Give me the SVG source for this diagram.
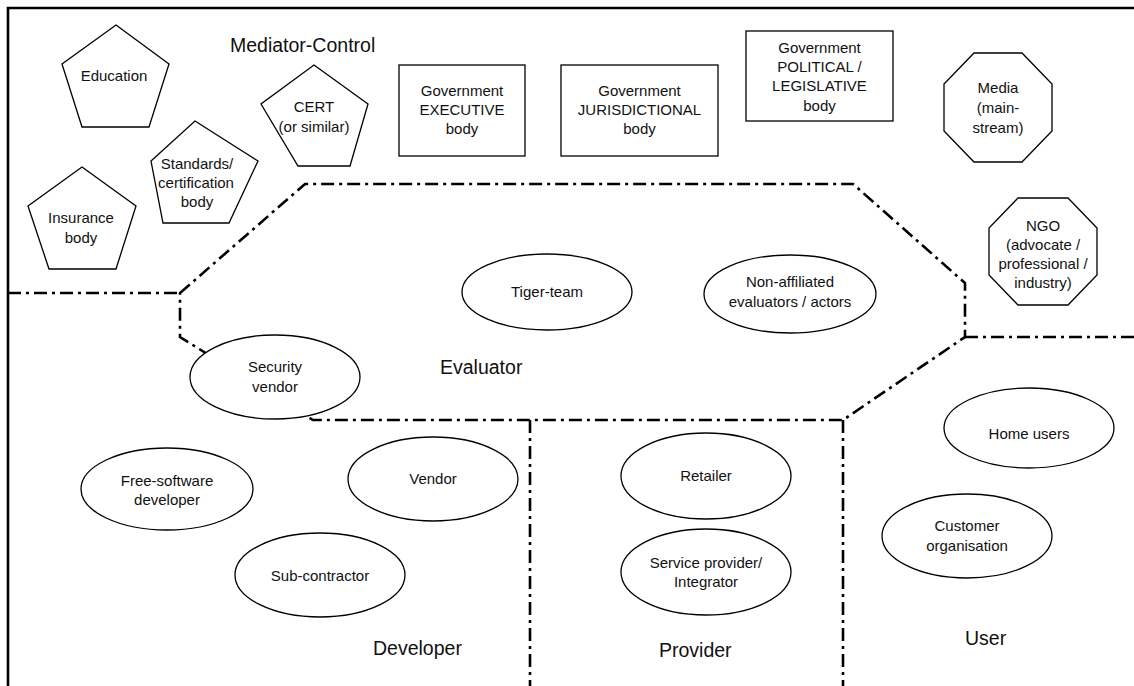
<svg xmlns="http://www.w3.org/2000/svg" width="1134" height="686" viewBox="0 0 1134 686">
<style>
.shape{fill:#fff;stroke:#000;stroke-width:1.3}
.bound{fill:none;stroke:#000;stroke-width:2.6;stroke-dasharray:13 5 3 5}
.frame{fill:none;stroke:#000;stroke-width:2.6}
text{font-family:"Liberation Sans",Arial,sans-serif;fill:#111}
.t{font-size:15px;text-anchor:middle}
.lbl{font-size:19.5px}
</style>
<rect x="0" y="0" width="1134" height="686" fill="#fff"/>
<g id="frame"><polyline class="frame" points="8,686 8,8 1134,8"/></g>
<g id="connectors">
<polygon class="bound" points="180,293 305,184 853,184 965,283 965,337 843,420 313,420 180,337"/>
<line class="bound" x1="8" y1="293" x2="180" y2="293"/>
<line class="bound" x1="965" y1="337" x2="1134" y2="337"/>
<line class="bound" x1="530" y1="420" x2="530" y2="686"/>
<line class="bound" x1="843" y1="420" x2="843" y2="686"/>
</g>
<g id="label-mediator"><text class="lbl" x="230" y="52">Mediator-Control</text></g>
<g id="label-evaluator"><text class="lbl" x="440" y="374">Evaluator</text></g>
<g id="label-developer"><text class="lbl" x="373" y="655">Developer</text></g>
<g id="label-provider"><text class="lbl" x="659" y="657">Provider</text></g>
<g id="label-user"><text class="lbl" x="965" y="645">User</text></g>
<g id="education"><polygon class="shape" points="116,25 169,64 149,127 82,127 62,64"/><text class="t" x="114" y="81">Education</text></g>
<g id="cert"><polygon class="shape" points="314,65 368,104 350,166 298,166 261,104"/><text class="t" x="314" y="112">CERT</text><text class="t" x="314" y="132">(or similar)</text></g>
<g id="standards"><polygon class="shape" points="195,121 258,161 229,223 163,223 151,161"/><text class="t" x="197" y="169">Standards/</text><text class="t" x="196" y="188">certification</text><text class="t" x="197" y="207">body</text></g>
<g id="insurance"><polygon class="shape" points="82,167 136,206 116,269 49,269 28,206"/><text class="t" x="81" y="223">Insurance</text><text class="t" x="81" y="243">body</text></g>
<g id="gov-exec"><rect class="shape" x="399" y="65" width="126" height="91"/><text class="t" x="462" y="96">Government</text><text class="t" x="462" y="115">EXECUTIVE</text><text class="t" x="462" y="134">body</text></g>
<g id="gov-jur"><rect class="shape" x="561" y="65" width="157" height="91"/><text class="t" x="639.5" y="96">Government</text><text class="t" x="639.5" y="115">JURISDICTIONAL</text><text class="t" x="639.5" y="134">body</text></g>
<g id="gov-pol"><rect class="shape" x="746" y="31" width="147" height="90"/><text class="t" x="819.5" y="53">Government</text><text class="t" x="819.5" y="72">POLITICAL /</text><text class="t" x="819.5" y="91">LEGISLATIVE</text><text class="t" x="819.5" y="111">body</text></g>
<g id="media"><polygon class="shape" points="974,53 1022,53 1052,84 1052,131 1022,162 974,162 944,131 944,84"/><text class="t" x="998" y="93">Media</text><text class="t" x="998" y="113">(main-</text><text class="t" x="998" y="133">stream)</text></g>
<g id="ngo"><polygon class="shape" points="1018,198 1068,198 1097,228 1097,275 1068,305 1018,305 989,275 989,228"/><text class="t" x="1043" y="231">NGO</text><text class="t" x="1043" y="250">(advocate /</text><text class="t" x="1043" y="269">professional /</text><text class="t" x="1043" y="288">industry)</text></g>
<g id="tiger"><ellipse class="shape" cx="547" cy="292" rx="85" ry="38"/><text class="t" x="547" y="297">Tiger-team</text></g>
<g id="nonaff"><ellipse class="shape" cx="790" cy="294" rx="86" ry="39"/><text class="t" x="790" y="287">Non-affiliated</text><text class="t" x="790" y="307">evaluators / actors</text></g>
<g id="secvendor"><ellipse class="shape" cx="275" cy="377" rx="85" ry="42"/><text class="t" x="275" y="372">Security</text><text class="t" x="275" y="392">vendor</text></g>
<g id="freesw"><ellipse class="shape" cx="167" cy="489" rx="86" ry="41"/><text class="t" x="167" y="486">Free-software</text><text class="t" x="167" y="505">developer</text></g>
<g id="vendor"><ellipse class="shape" cx="433" cy="479" rx="85" ry="42"/><text class="t" x="433" y="484">Vendor</text></g>
<g id="subcontractor"><ellipse class="shape" cx="320" cy="575" rx="85" ry="42"/><text class="t" x="320" y="581">Sub-contractor</text></g>
<g id="retailer"><ellipse class="shape" cx="706" cy="476" rx="85" ry="43"/><text class="t" x="706" y="481">Retailer</text></g>
<g id="serviceprov"><ellipse class="shape" cx="706" cy="572" rx="85" ry="43"/><text class="t" x="706" y="568">Service provider/</text><text class="t" x="706" y="587">Integrator</text></g>
<g id="homeusers"><ellipse class="shape" cx="1029" cy="428" rx="85" ry="40"/><text class="t" x="1029" y="439">Home users</text></g>
<g id="customer"><ellipse class="shape" cx="967" cy="536" rx="85" ry="42"/><text class="t" x="967" y="531">Customer</text><text class="t" x="967" y="551">organisation</text></g>
</svg>
